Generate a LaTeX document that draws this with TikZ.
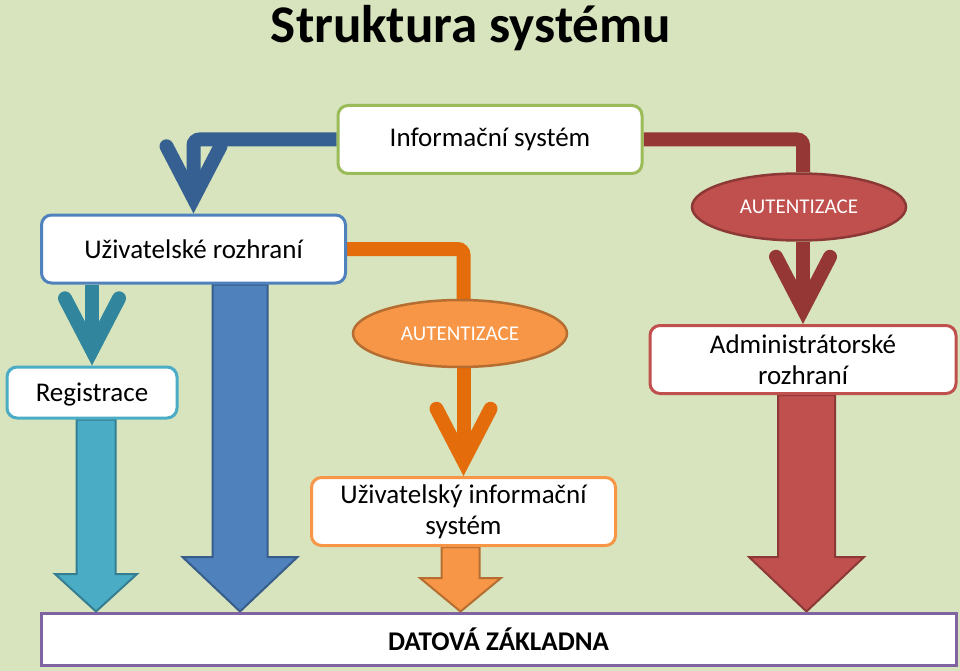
\documentclass[tikz,border=0pt]{standalone}
\usepackage{fontspec}
\setmainfont{Carlito}
\usepackage{tikz}
\usetikzlibrary{arrows.meta, shapes.geometric, positioning, backgrounds}
\usepackage{xcolor}
\definecolor{bggreen}{RGB}{215, 228, 189}
\definecolor{olivegreen}{RGB}{155, 187, 89}
\definecolor{accblue}{RGB}{79, 129, 189}
\definecolor{darkblue}{RGB}{55, 96, 146}
\definecolor{blueline}{RGB}{56, 93, 138}
\definecolor{accteal}{RGB}{75, 172, 198}
\definecolor{darkteal}{RGB}{49, 133, 156}
\definecolor{tealline}{RGB}{53, 125, 145}
\definecolor{accorange}{RGB}{247, 150, 70}
\definecolor{darkorange}{RGB}{228, 108, 10}
\definecolor{orangeline}{RGB}{182, 109, 49}
\definecolor{accred}{RGB}{192, 80, 77}
\definecolor{darkred}{RGB}{149, 55, 53}
\definecolor{redline}{RGB}{140, 56, 54}
\definecolor{accpurple}{RGB}{128, 100, 162}

\tikzset{
  box/.style={draw, line width=3pt, fill=white, rounded corners=10pt, minimum width=304pt,
    minimum height=68pt, inner sep=0pt, align=center, font=\fontsize{27}{31}\selectfont},
  authbox/.style={ellipse, draw, line width=2.5pt, minimum width=214pt, minimum height=67pt,
    inner sep=0pt, text=white, font=\fontsize{21}{24}\selectfont},
  conn/.style={line width=14pt, -{Straight Barb[length=52pt, width=54pt, line cap=round]}},
  plainconn/.style={line width=14pt, rounded corners=6pt},
  blockarrow/.style={line width=2pt, line join=miter},
}

\begin{document}
\begin{tikzpicture}[x=1pt, y=-1pt]
  \useasboundingbox (0,0) rectangle (960,671);
  \begin{scope}[on background layer]
    \fill[bggreen] (0,0) rectangle (960,671);
  \end{scope}

  \node[anchor=base, font=\fontsize{53}{60}\selectfont\bfseries] (title) at (471,43) {Struktura systému};

  \node[box, draw=olivegreen] (info) at (490,139.5) {Informační systém};
  \node[box, draw=accblue] (ui) at (193.5,249) {Uživatelské rozhraní};
  \node[box, draw=accteal, minimum width=170pt, minimum height=51pt, text depth=0pt] (reg) at (92,392.5) {Registrace};
  \node[authbox, fill=accorange, draw=orangeline] (authui) at (460,333.5) {AUTENTIZACE};
  \node[authbox, fill=accred, draw=redline] (authadmin) at (799,207) {AUTENTIZACE};
  \node[box, draw=accred, minimum width=306pt] (admin) at (803,359.5) {Administrátorské\\rozhraní};
  \node[box, draw=accorange] (uis) at (463.5,511.5) {Uživatelský informační\\systém};
  \node[draw=accpurple, line width=3pt, fill=white, minimum width=915pt, minimum height=52pt,
    font=\fontsize{27}{31}\selectfont\bfseries] (db) at (498.5,639) {DATOVÁ ZÁKLADNA};

  \begin{scope}[on background layer]
    % thin connectors
    \draw[conn, plainconn, darkblue] (info.west) -| (ui.north);
    \draw[plainconn, darkred] (info.east) -| (authadmin.north -| admin.north);
    \draw[conn, darkred] (authadmin.south -| admin.north) -- (admin.north);
    \draw[plainconn, darkorange] (ui.east) -| (authui.north -| uis.north);
    \draw[conn, darkorange] (authui.south -| uis.north) -- (uis.north);
    \draw[conn, darkteal] (ui.south -| reg.north) -- (reg.north);
    % block arrows into the database
    \foreach \cx/\sw/\hw/\yh/\src/\fillcol/\linecol in {96/19.5/41/574/reg/accteal/tealline,
        240/27.5/57.5/557/ui/accblue/blueline, 460.5/19/40.5/578/uis/accorange/orangeline,
        806.5/28.5/57.5/557/admin/accred/redline}{
      \pgfmathsetmacro\shaftl{\cx-\sw}
      \pgfmathsetmacro\shaftr{\cx+\sw}
      \pgfmathsetmacro\headl{\cx-\hw}
      \pgfmathsetmacro\headr{\cx+\hw}
      \filldraw[blockarrow, fill=\fillcol, draw=\linecol] (\src.south -| \shaftl,0) -- (\shaftl,\yh)
        -- (\headl,\yh) -- (db.north -| \cx,0) -- (\headr,\yh) -- (\shaftr,\yh)
        -- (\src.south -| \shaftr,0) -- cycle;
    }
  \end{scope}
\end{tikzpicture}
\end{document}
